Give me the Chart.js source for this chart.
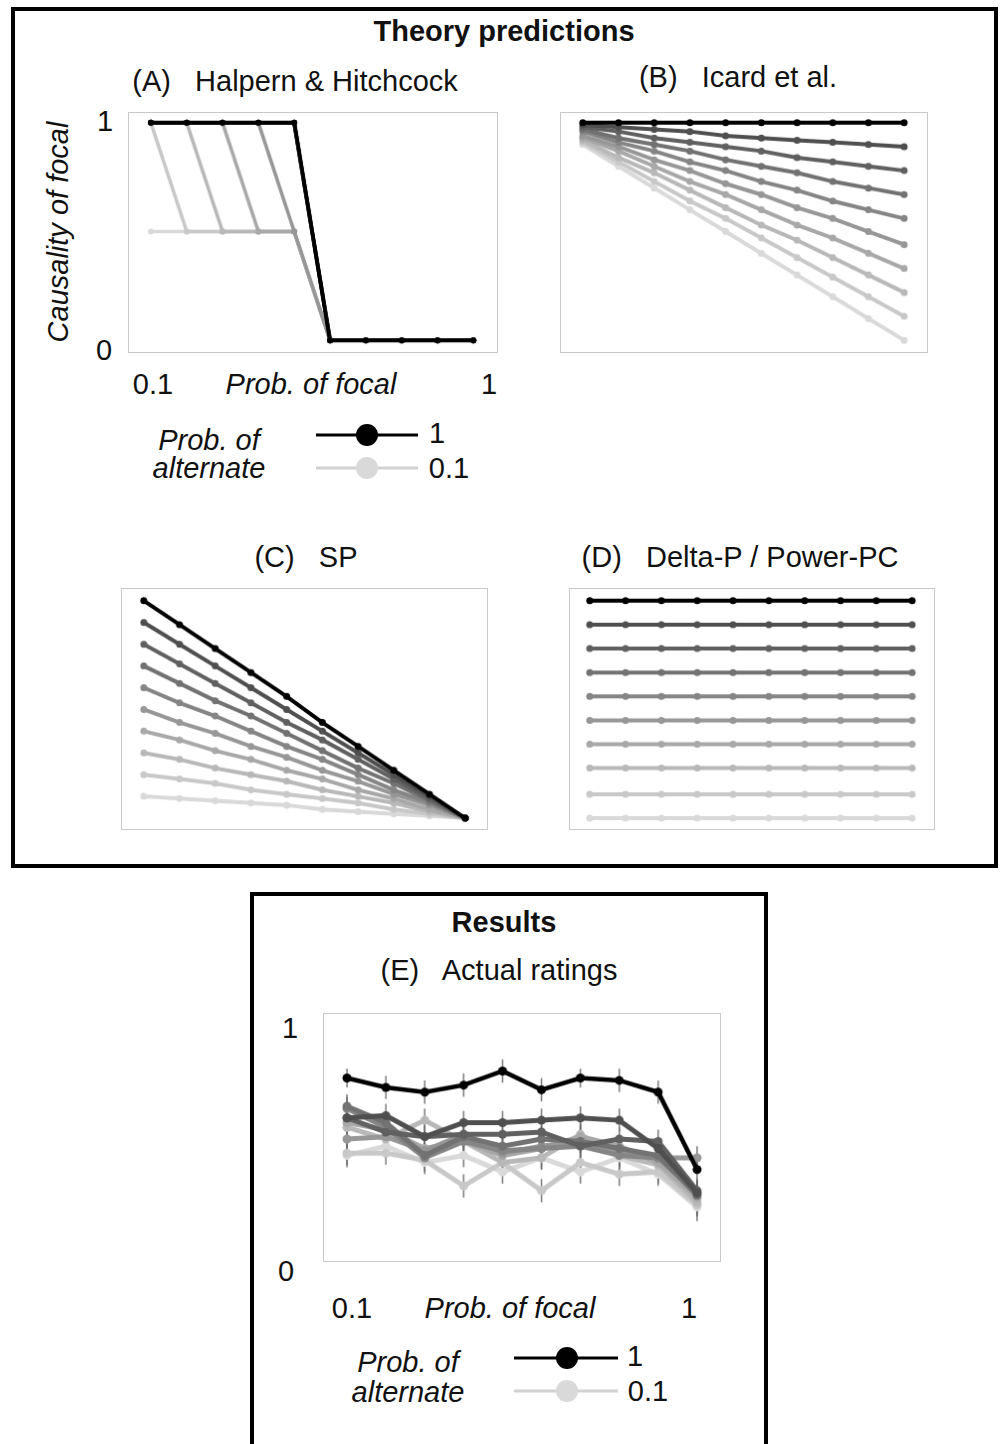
<!DOCTYPE html>
<html>
<head>
<meta charset="utf-8">
<script src="https://cdn.jsdelivr.net/npm/chart.js@4/dist/chart.umd.min.js"></script>
<style>
  body { margin: 0; width: 1004px; height: 1444px; background: #fff; position: relative; overflow: hidden;
         font-family: "Liberation Sans", Arial, sans-serif; color: #111; }
  .frame { position: absolute; border: 4px solid #000; box-sizing: border-box; }
  .t { position: absolute; white-space: pre; line-height: 1; font-size: 29px; transform: translate(-50%, -50%); }
  .b { font-weight: bold; }
  .i { font-style: italic; }
  canvas { position: absolute; border: 1px solid #c9c9c9; }
  svg { position: absolute; left: 0; top: 0; }
</style>
</head>
<body>
<div class="frame" style="left:11px; top:7px; width:987px; height:861px;"></div>
<div class="frame" style="left:250px; top:892px; width:518px; height:600px;"></div>

<div class="t b" style="left:504px; top:31px;">Theory predictions</div>
<div class="t" style="left:295px; top:81px;">(A)   Halpern &amp; Hitchcock</div>
<div class="t" style="left:738px; top:77px;">(B)   Icard et al.</div>
<div class="t" style="left:306px; top:557px;">(C)   SP</div>
<div class="t" style="left:740px; top:557px;">(D)   Delta-P / Power-PC</div>

<div class="t i" style="left:58px; top:232px; transform: translate(-50%, -50%) rotate(-90deg);">Causality of focal</div>
<div class="t" style="left:105px; top:121px;">1</div>
<div class="t" style="left:104px; top:350px;">0</div>
<div class="t" style="left:153px; top:384px;">0.1</div>
<div class="t i" style="left:311px; top:384px;">Prob. of focal</div>
<div class="t" style="left:489px; top:384px;">1</div>

<div class="t i" style="left:209px; top:440px;">Prob. of</div>
<div class="t i" style="left:209px; top:468px;">alternate</div>
<div class="t" style="left:437px; top:433px;">1</div>
<div class="t" style="left:449px; top:468px;">0.1</div>

<div class="t b" style="left:504px; top:922px;">Results</div>
<div class="t" style="left:499px; top:970px;">(E)   Actual ratings</div>
<div class="t" style="left:290px; top:1028px;">1</div>
<div class="t" style="left:286px; top:1271px;">0</div>
<div class="t" style="left:352px; top:1308px;">0.1</div>
<div class="t i" style="left:510px; top:1308px;">Prob. of focal</div>
<div class="t" style="left:689px; top:1308px;">1</div>

<div class="t i" style="left:408px; top:1362px;">Prob. of</div>
<div class="t i" style="left:408px; top:1392px;">alternate</div>
<div class="t" style="left:635px; top:1356px;">1</div>
<div class="t" style="left:648px; top:1391px;">0.1</div>

<svg width="1004" height="1444">
  <line x1="316" y1="435" x2="418" y2="435" stroke="#000" stroke-width="3"/>
  <circle cx="367" cy="435" r="11" fill="#000"/>
  <line x1="316" y1="468" x2="418" y2="468" stroke="#d2d2d2" stroke-width="3"/>
  <circle cx="367" cy="468" r="11" fill="#d9d9d9"/>
  <line x1="514" y1="1358" x2="618" y2="1358" stroke="#000" stroke-width="3"/>
  <circle cx="567" cy="1358" r="11" fill="#000"/>
  <line x1="514" y1="1391" x2="618" y2="1391" stroke="#d2d2d2" stroke-width="3"/>
  <circle cx="567" cy="1391" r="11" fill="#d9d9d9"/>
</svg>

<canvas id="chartA"></canvas>
<canvas id="chartB"></canvas>
<canvas id="chartC"></canvas>
<canvas id="chartD"></canvas>
<canvas id="chartE"></canvas>

<script>
// x values: probability of the focal cause
const focalProbs = [0.1, 0.2, 0.3, 0.4, 0.5, 0.6, 0.7, 0.8, 0.9, 1.0];
// one series per probability of the alternate cause (darkest first, drawn on top)
const altProbs = [1, 0.9, 0.8, 0.7, 0.6, 0.5, 0.4, 0.3, 0.2, 0.1];

// (A) Halpern & Hitchcock
const hhValues = [
  [1, 1, 1, 1, 1, 0, 0, 0, 0, 0],
  [1, 1, 1, 1, 1, 0, 0, 0, 0, 0],
  [1, 1, 1, 1, 1, 0, 0, 0, 0, 0],
  [1, 1, 1, 1, 1, 0, 0, 0, 0, 0],
  [1, 1, 1, 1, 1, 0, 0, 0, 0, 0],
  [1, 1, 1, 1, 0.5, 0, 0, 0, 0, 0],
  [1, 1, 1, 0.5, 0.5, 0, 0, 0, 0, 0],
  [1, 1, 0.5, 0.5, 0.5, 0, 0, 0, 0, 0],
  [1, 0.5, 0.5, 0.5, 0.5, 0, 0, 0, 0, 0],
  [0.5, 0.5, 0.5, 0.5, 0.5, 0, 0, 0, 0, 0]
];

// (B) Icard et al.
const icardValues = [
  [1, 1, 1, 1, 1, 1, 1, 1, 1, 1],
  [0.99, 0.98, 0.97, 0.96, 0.94, 0.93, 0.92, 0.91, 0.90, 0.89],
  [0.98, 0.96, 0.93, 0.91, 0.89, 0.87, 0.84, 0.82, 0.80, 0.78],
  [0.97, 0.93, 0.90, 0.87, 0.83, 0.80, 0.77, 0.73, 0.70, 0.67],
  [0.96, 0.91, 0.87, 0.82, 0.78, 0.73, 0.69, 0.64, 0.60, 0.56],
  [0.94, 0.89, 0.83, 0.78, 0.72, 0.67, 0.61, 0.56, 0.50, 0.44],
  [0.93, 0.87, 0.80, 0.73, 0.67, 0.60, 0.53, 0.47, 0.40, 0.33],
  [0.92, 0.84, 0.77, 0.69, 0.61, 0.53, 0.46, 0.38, 0.30, 0.22],
  [0.91, 0.82, 0.73, 0.64, 0.56, 0.47, 0.38, 0.29, 0.20, 0.11],
  [0.90, 0.80, 0.70, 0.60, 0.50, 0.40, 0.30, 0.20, 0.10, 0.00]
];

// (C) SP
const spValues = [
  [1.00, 0.89, 0.78, 0.67, 0.56, 0.44, 0.33, 0.22, 0.11, 0],
  [0.90, 0.80, 0.70, 0.60, 0.50, 0.40, 0.30, 0.20, 0.10, 0],
  [0.80, 0.71, 0.62, 0.53, 0.44, 0.36, 0.27, 0.18, 0.09, 0],
  [0.70, 0.62, 0.54, 0.47, 0.39, 0.31, 0.23, 0.16, 0.08, 0],
  [0.60, 0.53, 0.47, 0.40, 0.33, 0.27, 0.20, 0.13, 0.07, 0],
  [0.50, 0.44, 0.39, 0.33, 0.28, 0.22, 0.17, 0.11, 0.06, 0],
  [0.40, 0.36, 0.31, 0.27, 0.22, 0.18, 0.13, 0.09, 0.04, 0],
  [0.30, 0.27, 0.23, 0.20, 0.17, 0.13, 0.10, 0.07, 0.03, 0],
  [0.20, 0.18, 0.16, 0.13, 0.11, 0.09, 0.07, 0.04, 0.02, 0],
  [0.10, 0.09, 0.08, 0.07, 0.06, 0.04, 0.03, 0.02, 0.01, 0]
];

// (D) Delta-P / Power-PC
const deltaPValues = [
  [1, 1, 1, 1, 1, 1, 1, 1, 1, 1],
  [0.89, 0.89, 0.89, 0.89, 0.89, 0.89, 0.89, 0.89, 0.89, 0.89],
  [0.78, 0.78, 0.78, 0.78, 0.78, 0.78, 0.78, 0.78, 0.78, 0.78],
  [0.67, 0.67, 0.67, 0.67, 0.67, 0.67, 0.67, 0.67, 0.67, 0.67],
  [0.56, 0.56, 0.56, 0.56, 0.56, 0.56, 0.56, 0.56, 0.56, 0.56],
  [0.45, 0.45, 0.45, 0.45, 0.45, 0.45, 0.45, 0.45, 0.45, 0.45],
  [0.34, 0.34, 0.34, 0.34, 0.34, 0.34, 0.34, 0.34, 0.34, 0.34],
  [0.23, 0.23, 0.23, 0.23, 0.23, 0.23, 0.23, 0.23, 0.23, 0.23],
  [0.11, 0.11, 0.11, 0.11, 0.11, 0.11, 0.11, 0.11, 0.11, 0.11],
  [0, 0, 0, 0, 0, 0, 0, 0, 0, 0]
];

// (E) Actual ratings, with error bar half-widths
const ratingValues = [
  [0.79, 0.75, 0.73, 0.76, 0.82, 0.74, 0.79, 0.78, 0.73, 0.40],
  [0.62, 0.63, 0.54, 0.60, 0.60, 0.61, 0.62, 0.61, 0.49, 0.30],
  [0.62, 0.56, 0.54, 0.55, 0.55, 0.56, 0.50, 0.53, 0.52, 0.31],
  [0.67, 0.60, 0.46, 0.54, 0.50, 0.53, 0.52, 0.49, 0.46, 0.29],
  [0.66, 0.58, 0.45, 0.52, 0.48, 0.49, 0.50, 0.46, 0.45, 0.30],
  [0.53, 0.54, 0.48, 0.55, 0.47, 0.50, 0.52, 0.47, 0.45, 0.45],
  [0.60, 0.57, 0.49, 0.52, 0.46, 0.49, 0.54, 0.50, 0.43, 0.28],
  [0.58, 0.53, 0.61, 0.52, 0.43, 0.45, 0.55, 0.46, 0.42, 0.26],
  [0.47, 0.47, 0.44, 0.33, 0.43, 0.31, 0.43, 0.38, 0.39, 0.25],
  [0.46, 0.50, 0.43, 0.46, 0.39, 0.45, 0.39, 0.45, 0.38, 0.24]
];
const ratingErrors = [
  [0.04, 0.05, 0.05, 0.05, 0.05, 0.05, 0.04, 0.05, 0.05, 0.06],
  [0.05, 0.05, 0.05, 0.05, 0.05, 0.05, 0.05, 0.05, 0.05, 0.05],
  [0.05, 0.05, 0.05, 0.05, 0.05, 0.05, 0.05, 0.05, 0.05, 0.05],
  [0.05, 0.05, 0.05, 0.05, 0.05, 0.05, 0.05, 0.05, 0.05, 0.05],
  [0.05, 0.05, 0.05, 0.05, 0.05, 0.05, 0.05, 0.05, 0.05, 0.05],
  [0.05, 0.05, 0.05, 0.05, 0.05, 0.05, 0.05, 0.05, 0.05, 0.05],
  [0.05, 0.05, 0.05, 0.05, 0.05, 0.05, 0.05, 0.05, 0.05, 0.05],
  [0.05, 0.05, 0.05, 0.05, 0.05, 0.05, 0.05, 0.05, 0.05, 0.05],
  [0.05, 0.05, 0.05, 0.05, 0.05, 0.05, 0.05, 0.05, 0.05, 0.05],
  [0.05, 0.05, 0.05, 0.05, 0.05, 0.05, 0.05, 0.05, 0.05, 0.06]
];

const greys = ['#000000', '#4f4f4f', '#606060', '#727272', '#858585',
               '#979797', '#a8a8a8', '#b8b8b8', '#c8c8c8', '#d9d9d9'];

// vertical error bars, drawn under the lines
const errorBars = {
  id: 'errorBars',
  beforeDatasetsDraw(chart, args, opts) {
    const ctx = chart.ctx;
    const xs = chart.scales.x, ys = chart.scales.y;
    ctx.save();
    ctx.strokeStyle = opts.color;
    ctx.lineWidth = opts.width;
    chart.data.datasets.forEach((ds, i) => {
      ds.data.forEach((p, j) => {
        const e = opts.errors[i][j];
        const px = xs.getPixelForValue(p.x);
        ctx.beginPath();
        ctx.moveTo(px, ys.getPixelForValue(p.y - e));
        ctx.lineTo(px, ys.getPixelForValue(p.y + e));
        ctx.stroke();
      });
    });
    ctx.restore();
  }
};

function drawPanel(id, box, values, xRange, yRange, look, extra) {
  const cv = document.getElementById(id);
  cv.style.left = box[0] + 'px';
  cv.style.top = box[1] + 'px';
  cv.width = box[2] - box[0] - 2;
  cv.height = box[3] - box[1] - 2;

  const datasets = values.map((row, i) => ({
    label: 'Prob. of alternate ' + altProbs[i],
    data: row.map((v, j) => ({ x: focalProbs[j], y: v })),
    borderColor: greys[i],
    backgroundColor: greys[i],
    pointBackgroundColor: greys[i],
    pointBorderColor: greys[i],
    pointBorderWidth: 0,
    borderWidth: i === 0 ? look.blackWidth : look.width,
    pointRadius: look.radius,
    tension: 0,
    clip: false
  }));

  const options = {
    responsive: false,
    animation: false,
    devicePixelRatio: 1,
    events: [],
    layout: { padding: 0, autoPadding: false },
    scales: {
      x: { type: 'linear', display: false, min: xRange[0], max: xRange[1] },
      y: { type: 'linear', display: false, min: yRange[0], max: yRange[1] }
    },
    plugins: { legend: { display: false }, tooltip: { enabled: false } }
  };
  if (extra) options.plugins.errorBars = extra;

  new Chart(cv, {
    type: 'line',
    data: { datasets: datasets },
    options: options,
    plugins: extra ? [errorBars] : []
  });
}

drawPanel('chartA', [128, 112, 500, 355], hhValues, [0.039, 1.066], [-0.054, 1.045],
  { width: 3.5, blackWidth: 4, radius: 3 });
drawPanel('chartB', [560, 112, 930, 355], icardValues, [0.039, 1.064], [-0.054, 1.045],
  { width: 4, blackWidth: 4, radius: 3.5 });
drawPanel('chartC', [121, 588, 490, 832], spValues, [0.039, 1.061], [-0.05, 1.054],
  { width: 4, blackWidth: 4, radius: 3.5 });
drawPanel('chartD', [569, 588, 937, 832], deltaPValues, [0.045, 1.061], [-0.05, 1.054],
  { width: 4, blackWidth: 4, radius: 3.5 });
drawPanel('chartE', [323, 1013, 723, 1264], ratingValues, [0.041, 1.059], [0.01, 1.063],
  { width: 5, blackWidth: 4.5, radius: 4.5 },
  { errors: ratingErrors, color: 'rgba(100,100,100,0.85)', width: 1.5 });
</script>
</body>
</html>
